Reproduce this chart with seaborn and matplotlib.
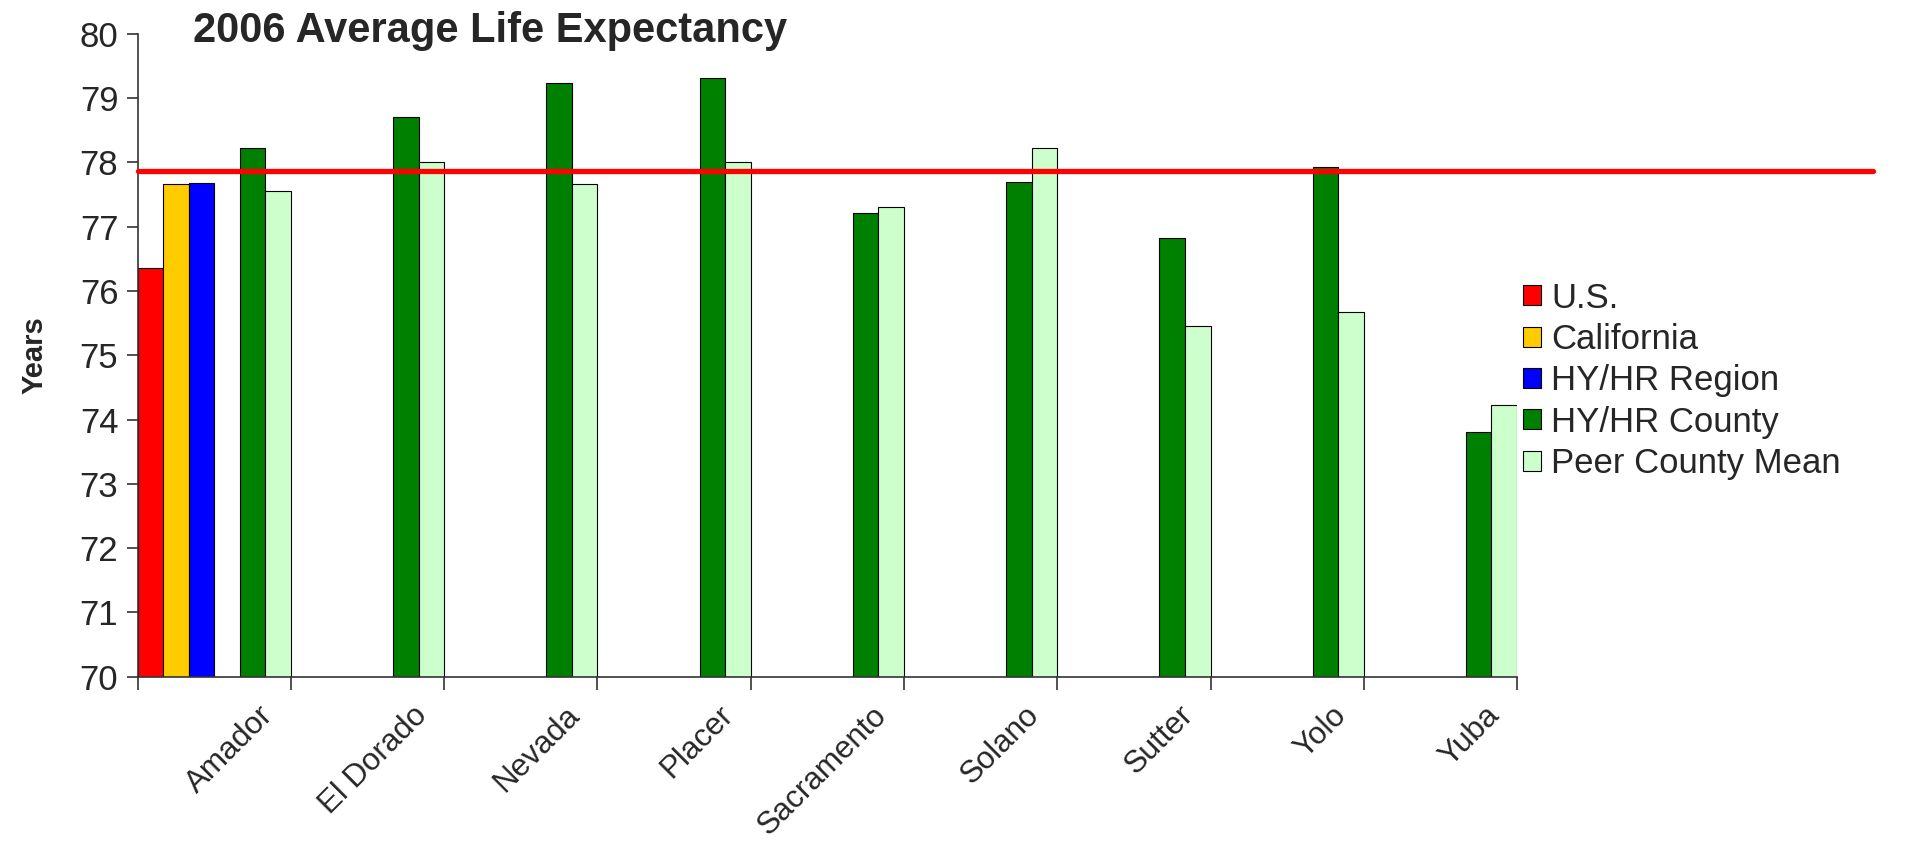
import pandas as pd
import seaborn as sns
import matplotlib.pyplot as plt
import matplotlib.transforms as mtransforms
from matplotlib.patches import Patch

counties = ['Amador', 'El Dorado', 'Nevada', 'Placer', 'Sacramento',
            'Solano', 'Sutter', 'Yolo', 'Yuba']
county_vals = [78.22, 78.71, 79.23, 79.32, 77.22, 77.69, 76.83, 77.93, 73.80]
peer_vals = [77.56, 78.00, 77.67, 78.00, 77.30, 78.22, 75.45, 75.67, 74.22]
ref_names = ['U.S.', 'California', 'HY/HR Region']
ref_vals = [76.36, 77.67, 77.68]
target_line = 77.86

series_order = ['U.S.', 'California', 'HY/HR Region', '_gap', 'HY/HR County', 'Peer County Mean']
colors = {'U.S.': '#FF0000', 'California': '#FFCC00', 'HY/HR Region': '#0000FF',
          '_gap': '#FFFFFF', 'HY/HR County': '#008000', 'Peer County Mean': '#CCFFCC'}

rows = []
for name, v in zip(ref_names, ref_vals):
    rows.append({'county': counties[0], 'series': name, 'years': v})
for c, v in zip(counties, county_vals):
    rows.append({'county': c, 'series': 'HY/HR County', 'years': v})
for c, v in zip(counties, peer_vals):
    rows.append({'county': c, 'series': 'Peer County Mean', 'years': v})
df = pd.DataFrame(rows)

sns.set_style('white')
plt.rcParams['font.family'] = ['Liberation Sans', 'DejaVu Sans']

fig = plt.figure(figsize=(19.13, 8.49), dpi=100)
ax = fig.add_axes([0.072, 0.203, 0.721, 0.757])

sns.barplot(data=df, x='county', y='years', hue='series', hue_order=series_order,
            order=counties, palette=colors, saturation=1, width=1.0, edgecolor='black',
            linewidth=0.8, legend=False, ax=ax)

ax.set_ylim(70, 80)
ax.set_xlim(-0.5, len(counties) - 0.5)
ax.set_yticks(range(70, 81))
ax.tick_params(axis='y', left=True, labelsize=25, length=8, width=1.2, color='#333333', pad=6)

# tick marks between categories, labels at the centres
ax.set_xticks([i + 0.5 for i in range(-1, len(counties))], minor=True)
ax.set_xticks(range(len(counties)))
ax.set_xticklabels(counties, rotation=45, ha='right', rotation_mode='anchor', fontsize=22.5)
ax.tick_params(axis='x', which='major', bottom=False, length=0, pad=17)
ax.tick_params(axis='x', which='minor', bottom=True, length=9, width=1.2, color='#333333')
shift = mtransforms.ScaledTranslation(0.44, 0, fig.dpi_scale_trans)
for lbl in ax.get_xticklabels():
    lbl.set_transform(lbl.get_transform() + shift)

for side in ['top', 'right']:
    ax.spines[side].set_visible(False)
for side in ['left', 'bottom']:
    ax.spines[side].set_color('#333333')
    ax.spines[side].set_linewidth(1.2)

ax.set_xlabel('')
ax.set_ylabel('Years', fontsize=21, fontweight='bold', labelpad=22)

ax.axhline(target_line, xmin=0, xmax=1.258, color='#FF0000', linewidth=3.8, clip_on=False, zorder=5)

fig.text(0.101, 0.964, '2006 Average Life Expectancy', fontsize=30, fontweight='bold', va='center')

handles = [Patch(facecolor=colors[s], edgecolor='black', linewidth=0.8, label=s)
           for s in series_order if s != '_gap']
fig.legend(handles=handles, loc='upper left', bbox_to_anchor=(0.78, 0.705), frameon=False,
           fontsize=25, handlelength=0.5, handleheight=0.5, handletextpad=0.3, labelspacing=0.24)

fig.savefig('out.png', dpi=100)
